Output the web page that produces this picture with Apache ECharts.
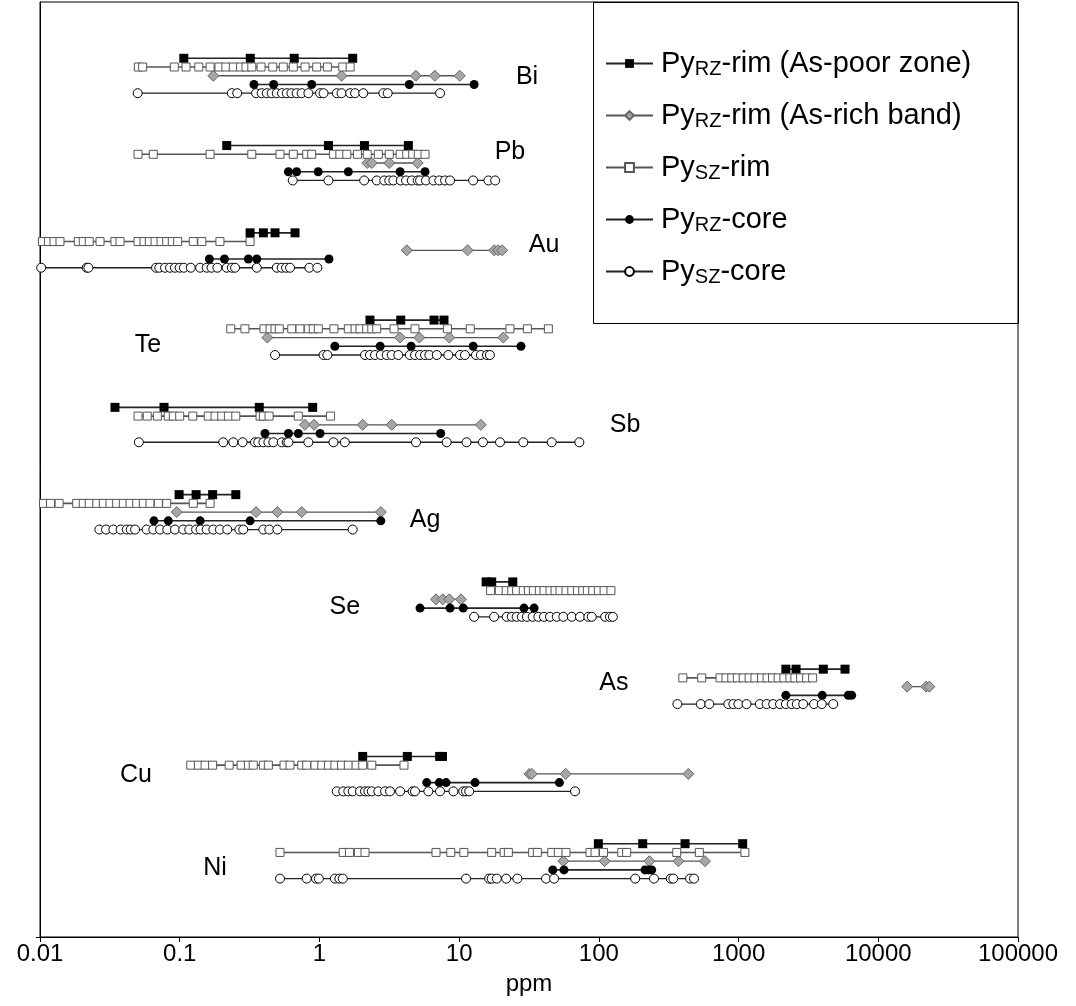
<!DOCTYPE html>
<html><head><meta charset="utf-8">
<script src="https://cdn.jsdelivr.net/npm/echarts@6/dist/echarts.min.js"></script>
<style>html,body{margin:0;padding:0;background:#fff}#c{width:1076px;height:1006px}</style>
</head><body><div id="c"></div>
<script>
const elements = ['Bi','Pb','Au','Te','Sb','Ag','Se','As','Cu','Ni'];
const seriesNames = ['PyRZ-rim (As-poor zone)','PyRZ-rim (As-rich band)','PySZ-rim','PyRZ-core','PySZ-core'];
const tickLabels = ['0.01','0.1','1','10','100','1000','10000','100000'];

// Py_RZ-rim (As-poor zone), one list per element (Bi ... Ni), ppm
const rimPoor = [
  [0.107,0.32,0.66,1.73],
  [0.217,1.16,2.10,4.33],
  [0.319,0.397,0.481,0.669],
  [2.30,3.82,6.61,7.79],
  [0.0344,0.0772,0.371,0.895],
  [0.099,0.131,0.172,0.252],
  [15.6,17.1,24.2],
  [2180,2580,4040,5780],
  [2.04,4.26,7.25,7.6],
  [99.2,206,414,1070]
];
// Py_RZ-rim (As-rich band)
const rimRich = [
  [0.174,1.44,4.9,6.7,10.1],
  [2.20,2.37,3.16,5.05],
  [4.22,11.5,17.8,19.0,20.3],
  [0.424,3.78,5.19,8.51,20.7],
  [0.788,0.915,2.04,3.29,14.3],
  [0.0952,0.352,0.5,0.747,2.75],
  [6.83,7.63,8.51,10.3],
  [16100,22000,23200],
  [31.8,33.1,57.9,437],
  [55.7,110,230,371,575]
];
// Py_SZ-rim
const rimSZ = [
  [0.0506,0.0543,0.0915,0.111,0.137,0.165,0.191,0.214,0.242,0.273,0.298,0.328,0.382,0.463,0.551,0.65,0.789,0.956,1.14,1.47,1.66],
  [0.0503,0.0647,0.165,0.328,0.522,0.65,0.811,0.88,1.26,1.40,1.57,1.87,2.20,2.64,3.16,3.78,4.22,4.65,5.1,5.7],
  [0.0104,0.0115,0.0126,0.0139,0.0188,0.0204,0.0225,0.0269,0.0344,0.0374,0.0503,0.0555,0.0606,0.0666,0.0735,0.0807,0.0885,0.0967,0.125,0.144,0.194,0.319],
  [0.232,0.293,0.401,0.443,0.481,0.516,0.634,0.726,0.833,0.904,0.982,1.27,1.61,1.80,1.95,2.18,2.37,2.57,3.42,4.83,8.24,12.0,23.1,30.8,43.5],
  [0.0503,0.0586,0.0692,0.0828,0.09,0.1,0.124,0.160,0.179,0.2,0.223,0.252,0.376,0.397,0.436,0.706,1.20],
  [0.0106,0.0119,0.0137,0.0183,0.0204,0.0225,0.0255,0.0284,0.0317,0.0354,0.0395,0.0441,0.0492,0.0549,0.0613,0.0703,0.0807,0.125,0.165],
  [16.8,19.4,21.7,23.8,25.8,28.8,31.3,34.0,37.5,40.5,44.7,48.6,52.7,58.2,64,70.2,76.7,82.7,90.4,99.2,109,122],
  [399,545,737,813,894,980,1080,1190,1310,1460,1600,1750,1920,2110,2330,2530,2780,3070,3390],
  [0.12,0.136,0.152,0.172,0.226,0.275,0.31,0.336,0.397,0.431,0.558,0.616,0.747,0.811,0.929,1.04,1.16,1.29,1.44,1.61,1.83,2.04,2.37,4.03],
  [0.522,1.48,1.64,1.90,2.12,6.83,8.71,10.8,17.1,21.0,22.5,33.6,36.3,46,51.3,58.2,86.5,93.9,108,146,158,361,524,1110]
];
// Py_RZ-core
const coreRZ = [
  [0.34,0.47,0.88,4.4,12.8],
  [0.60,0.687,0.98,1.61,3.78,5.7],
  [0.163,0.209,0.31,0.356,1.17],
  [1.29,2.72,4.53,12.6,27.7],
  [0.408,0.60,0.706,1.01,7.38],
  [0.0654,0.0828,0.14,0.319,2.75],
  [5.25,8.61,10.7,29.1,34.4],
  [2180,3970,6100,6450],
  [5.86,7.21,8.06,13.0,52.2],
  [46.8,56.3,214,226,239]
];
// Py_SZ-core
const coreSZ = [
  [0.05,0.236,0.258,0.352,0.386,0.42,0.455,0.495,0.54,0.584,0.63,0.687,0.746,0.834,1.01,1.07,1.33,1.44,1.66,1.8,2.06,2.87,3.08,7.3],
  [0.644,1.16,2.09,2.57,2.91,3.16,3.38,3.82,4.17,4.58,5.05,5.25,5.79,6.54,7.21,7.93,8.61,12.6,16.2,18.1],
  [0.0102,0.0216,0.0222,0.0677,0.0714,0.0785,0.0852,0.0925,0.1,0.107,0.12,0.14,0.156,0.169,0.186,0.217,0.236,0.249,0.356,0.495,0.537,0.577,0.616,0.847,0.966],
  [0.481,1.07,1.14,2.12,2.30,2.5,2.75,3.03,3.29,3.67,4.44,4.83,5.25,5.70,6.12,6.92,8.37,10.15,11.0,13.2,14.3,15.8,16.6],
  [0.051,0.205,0.242,0.282,0.346,0.365,0.397,0.431,0.468,0.537,0.583,0.6,0.833,1.26,1.52,4.91,8.15,11.3,14.8,19.6,28.8,46,72.5],
  [0.0266,0.0297,0.0335,0.0378,0.0418,0.0446,0.0479,0.058,0.0647,0.0723,0.0815,0.0925,0.106,0.117,0.131,0.141,0.156,0.174,0.194,0.219,0.267,0.285,0.397,0.438,0.5,1.73],
  [12.8,17.8,21.9,23.8,25.8,28.1,30.5,33.6,36.9,40.5,44.7,50,55.7,64,73.3,84.1,89,111,120,126],
  [365,536,618,845,918,997,1140,1420,1590,1770,1980,2180,2400,2610,2900,3470,3940,4760],
  [1.33,1.48,1.61,1.73,1.95,2.12,2.24,2.37,2.64,2.95,3.20,3.78,4.65,4.83,6.02,7.3,9.1,10.7,11.2,11.8,67.5],
  [0.522,0.811,0.945,0.99,1.29,1.39,1.47,11.2,16.4,17.1,18.6,21.7,26.1,41.9,47.8,182,248,327,341,450,480]
];
// element label anchor (ppm, row units)
const labelPpm = [30.6,23.1,40.5,0.0593,154,5.7,1.52,128,0.0486,0.179];
const labelRow = [2.14,10.74,21.4,32.85,42.0,52.9,62.9,71.6,82.1,92.8];

const FONT = "'Liberation Sans', Arial, sans-serif";
const groupStep = 10;
const yMin = -6.45, yMax = 100.69;
const styles = [
  {data: rimPoor, row: 0, symbol: 'rect', size: 9, fill: '#000', border: '#000', bw: 0, line: '#222', lw: 1.6},
  {data: rimRich, row: 2, symbol: 'diamond', size: 11, fill: '#a6a6a6', border: '#666', bw: 1, line: '#555', lw: 1.3},
  {data: rimSZ, row: 1, symbol: 'rect', size: 8, fill: '#fff', border: '#555', bw: 1, line: '#555', lw: 1.6},
  {data: coreRZ, row: 3, symbol: 'circle', size: 9, fill: '#000', border: '#000', bw: 0, line: '#222', lw: 1.6},
  {data: coreSZ, row: 4, symbol: 'circle', size: 9, fill: '#fff', border: '#000', bw: 1, line: '#222', lw: 1.3}
];

const series = [];
styles.forEach((st, si) => {
  st.data.forEach((vals, g) => {
    series.push({
      name: seriesNames[si],
      type: 'line',
      data: vals.map(v => [v, g * groupStep + st.row]),
      symbol: st.symbol,
      symbolSize: st.size,
      showAllSymbol: true,
      itemStyle: {color: st.fill, borderColor: st.border, borderWidth: st.bw},
      lineStyle: {color: st.line, width: st.lw},
      z: 3 + si,
      silent: true
    });
  });
});
series.push({
  type: 'scatter',
  name: 'labels',
  data: elements.map((e, i) => [labelPpm[i], labelRow[i], e]),
  symbolSize: 1,
  itemStyle: {opacity: 0},
  label: {show: true, position: 'inside', formatter: p => p.data[2], color: '#000', opacity: 1, fontSize: 25, fontFamily: FONT},
  silent: true,
  z: 10
});

const chart = echarts.init(document.getElementById('c'));
chart.setOption({
  animation: false,
  backgroundColor: '#fff',
  grid: {left: 40, right: 58, top: 2, bottom: 69, show: true, borderColor: '#000', borderWidth: 1, backgroundColor: 'transparent'},
  xAxis: {
    type: 'log', logBase: 10, min: 0.01, max: 100000,
    name: 'ppm', nameLocation: 'middle', nameGap: 35,
    nameTextStyle: {fontSize: 24, fontFamily: FONT, color: '#000'},
    axisLine: {show: true, onZero: false, lineStyle: {color: '#000', width: 1}},
    axisTick: {show: true, inside: false, length: 5, lineStyle: {color: '#000'}},
    minorTick: {show: false},
    splitLine: {show: false},
    axisLabel: {
      fontSize: 24, fontFamily: FONT, color: '#000', margin: 5,
      formatter: v => { const i = Math.round(Math.log10(v)) + 2; return tickLabels[i] || ''; }
    }
  },
  yAxis: {
    type: 'value', inverse: true, min: yMin, max: yMax,
    axisLine: {show: true, onZero: false, lineStyle: {color: '#000'}},
    axisTick: {show: true, customValues: [yMax], length: 4, lineStyle: {color: '#000'}},
    axisLabel: {show: false}, splitLine: {show: false}
  },
  legend: {
    data: seriesNames,
    orient: 'vertical', left: 600, top: 44, itemWidth: 47, itemHeight: 11, itemGap: 22,
    formatter: n => n.replace(/^Py(RZ|SZ)(.*)$/, '{g|}{m|Py}{s|$1}{m|$2}'),
    textStyle: {
      color: '#000', fontFamily: FONT,
      rich: {
        g: {width: 3},
        m: {fontSize: 29, lineHeight: 31, fontFamily: FONT, color: '#000'},
        s: {fontSize: 20, lineHeight: 20, verticalAlign: 'bottom', fontFamily: FONT, color: '#000'}
      }
    },
    selectedMode: false
  },
  graphic: [{
    type: 'rect', left: 593, top: 2, z: -1,
    shape: {width: 425, height: 321},
    style: {fill: '#fff', stroke: '#000', lineWidth: 1}
  }],
  series
});
</script></body></html>
